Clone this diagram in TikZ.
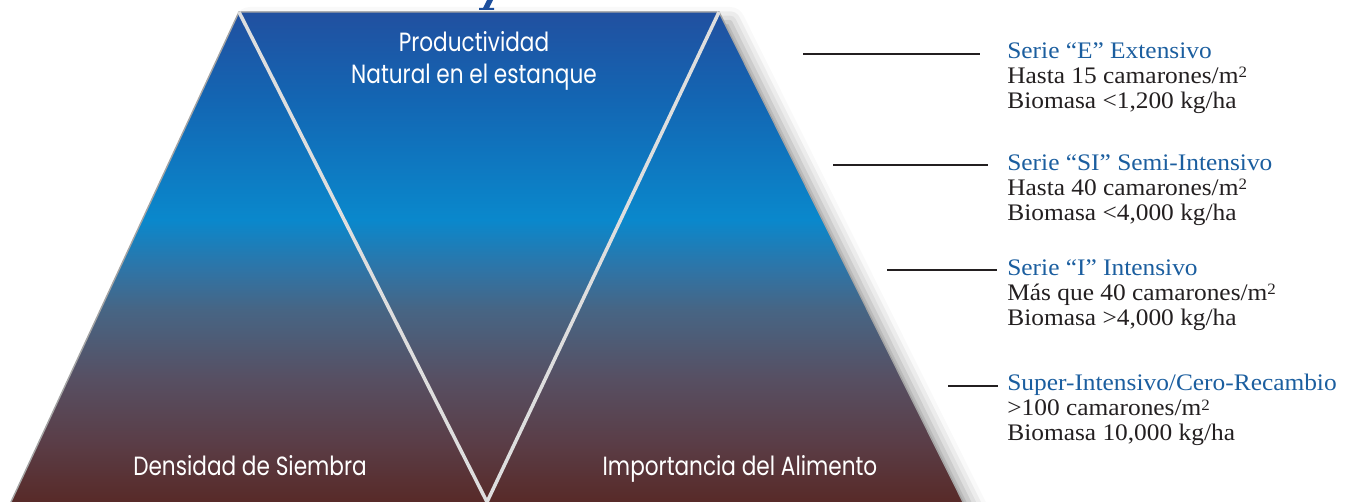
\documentclass[tikz,border=0pt]{standalone}
\usepackage{fontspec}
\setmainfont{Liberation Serif}[FakeStretch=1.07]
\newfontfamily\rotulofont[FakeStretch=0.82]{Poppins}
\usetikzlibrary{positioning}
\usetikzlibrary{shadows.blur}

\definecolor{azulserie}{HTML}{1B5E9F}
\definecolor{azultitulo}{HTML}{1D4F9C}
\definecolor{tinta}{HTML}{231F20}
\definecolor{borde}{HTML}{A4A4A4}
\definecolor{vlinea}{HTML}{DEDEDE}
\definecolor{cima}{HTML}{2150A0}
\definecolor{azulmedio}{HTML}{1366B3}
\definecolor{celeste}{HTML}{0A88CC}
\definecolor{acero}{HTML}{2F74A6}
\definecolor{pizarra}{HTML}{476584}
\definecolor{malva}{HTML}{574F62}
\definecolor{vino}{HTML}{5A3E48}
\definecolor{fondo}{HTML}{582A28}
\pgfdeclareverticalshading{estanque}{100bp}{color(0bp)=(fondo); color(25bp)=(fondo);
  color(31.3bp)=(vino); color(37.5bp)=(malva); color(44.6bp)=(pizarra);
  color(48.7bp)=(acero); color(53.8bp)=(celeste); color(66bp)=(azulmedio);
  color(75bp)=(cima); color(100bp)=(cima)}

\newcommand{\metro}{m\raisebox{0.5ex}{\fontsize{9}{9}\selectfont 2}}

\begin{document}
\begin{tikzpicture}[x=0.02cm, y=-0.02cm,
    rotulo/.style = {text=white, font=\rotulofont\fontsize{15}{18.2}\selectfont, align=center, inner sep=0pt},
    serie/.style = {text=tinta, font=\fontsize{13.5}{14.2}\selectfont, align=left, anchor=north west, inner sep=0pt},
    guia/.style = {draw=tinta, line width=1.5pt}]
    \useasboundingbox (0,0) rectangle (1348,502);
    % Nodes

    \coordinate (tl) at (239,12);
    \coordinate (tr) at (719,12);
    \coordinate (bl) at (11,502);
    \coordinate (br) at (963,502);
    \coordinate (vertice) at (487,502);

    \fill[shading=estanque, blur shadow={shadow xshift=0.22cm, shadow yshift=-0.2cm, shadow blur radius=0.3cm, shadow opacity=40}]
        (bl) -- (tl) -- (tr) -- (br) -- cycle;
    \draw[borde, line width=0.8pt] (bl) -- (tl) -- (tr) -- (br);
    \draw[vlinea, line width=2pt] (tl) -- (vertice) -- (tr);

    \node[rotulo] (prod) at (474,61) {Productividad\\Natural en el estanque};
    \node[rotulo, anchor=base] (dens) at (250,476) {Densidad de Siembra};
    \node[rotulo, anchor=base] (alim) at (740,476) {Importancia del Alimento};

    \node[serie] (sE) at (1007,42) {\textcolor{azulserie}{Serie “E” Extensivo}\\Hasta 15 camarones/\metro\\Biomasa <1,200 kg/ha};
    \node[serie] (sSI) at (1007,154) {\textcolor{azulserie}{Serie “SI” Semi-Intensivo}\\Hasta 40 camarones/\metro\\Biomasa <4,000 kg/ha};
    \node[serie] (sI) at (1007,259) {\textcolor{azulserie}{Serie “I” Intensivo}\\Más que 40 camarones/\metro\\Biomasa >4,000 kg/ha};
    \node[serie] (sSR) at (1007,374) {\textcolor{azulserie}{Super-Intensivo/Cero-Recambio}\\>100 camarones/\metro\\Biomasa 10,000 kg/ha};

    \coordinate (gE) at (803,54);
    \coordinate (gSI) at (833,165);
    \coordinate (gI) at (887,270);
    \coordinate (gSR) at (948,386);

    % Edges
    \draw[guia, shorten >=0.54cm] (gE) -- (gE -| sE.west);
    \draw[guia, shorten >=0.38cm] (gSI) -- (gSI -| sSI.west);
    \draw[guia, shorten >=0.2cm] (gI) -- (gI -| sI.west);
    \draw[guia, shorten >=0.18cm] (gSR) -- (gSR -| sSR.west);

    % cut title
    \fill[azultitulo] (487,0) -- (493,0) -- (489,8) -- (494,8) -- (494,10) -- (479,10) -- (479,8) -- (483,8) -- cycle;

\end{tikzpicture}
\end{document}
